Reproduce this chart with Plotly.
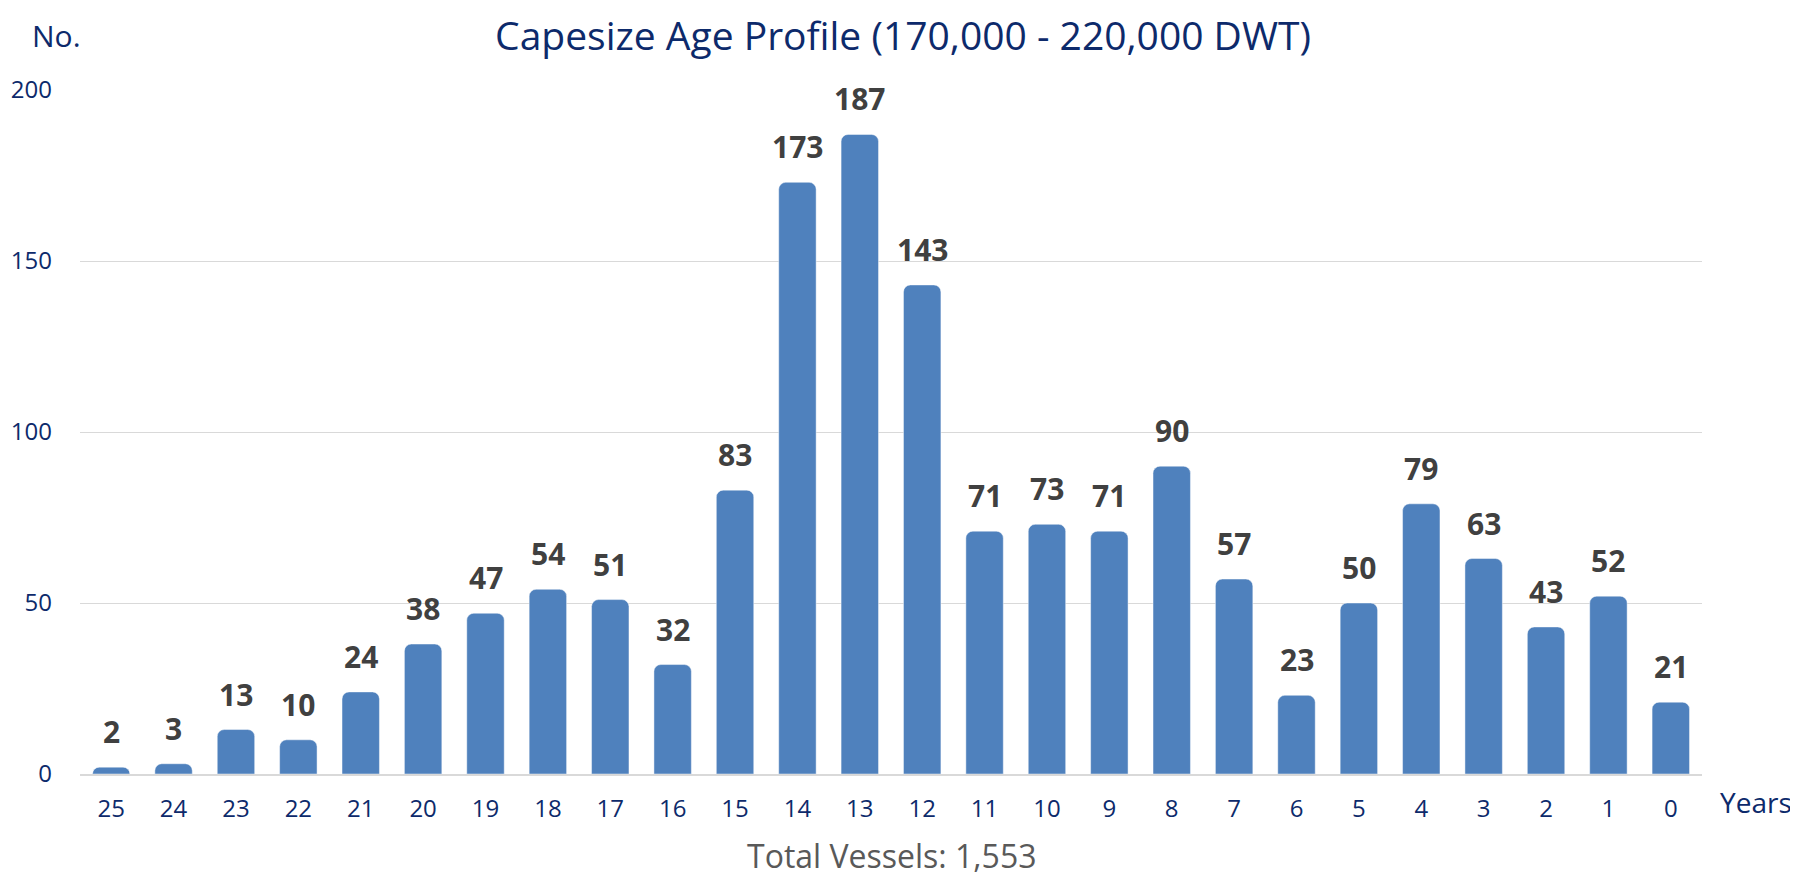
import plotly.graph_objects as go

# ages in years, oldest first
ages = ["25", "24", "23", "22", "21", "20", "19", "18", "17", "16", "15", "14", "13",
        "12", "11", "10", "9", "8", "7", "6", "5", "4", "3", "2", "1", "0"]
vessels = [2, 3, 13, 10, 24, 38, 47, 54, 51, 32, 83, 173, 187,
           143, 71, 73, 71, 90, 57, 23, 50, 79, 63, 43, 52, 21]
y_ticks = [0, 50, 100, 150, 200]

NAVY = "#0d2a6b"
BAR = "#4f81bd"
FONT = "Open Sans, Noto Sans, sans-serif"

fig = go.Figure()
fig.add_trace(go.Bar(
    x=ages,
    y=vessels,
    marker=dict(color=BAR, line=dict(color="rgba(255,255,255,0.45)", width=1)),
    showlegend=False,
    hoverinfo="x+y",
))

# value labels above bars (category axis -> position by index)
for i, val in enumerate(vessels):
    fig.add_annotation(
        x=i, y=val, text=f"<b>{val}</b>", showarrow=False,
        yanchor="bottom", yshift=13,
        font=dict(family=FONT, size=30, color="#404040"),
    )

fig.add_annotation(xref="paper", yref="paper", x=0, y=1.0, xshift=-50, yshift=55,
                   text="No.", showarrow=False, xanchor="left", yanchor="middle",
                   font=dict(family=FONT, size=30, color=NAVY))
fig.add_annotation(xref="paper", yref="paper", x=1.0, y=0, xshift=16, yshift=-28,
                   text="Years", showarrow=False, xanchor="left", yanchor="middle",
                   font=dict(family=FONT, size=28, color=NAVY))
fig.add_annotation(xref="paper", yref="paper", x=0.5, y=0, yshift=-81,
                   text="Total Vessels: 1,553", showarrow=False,
                   xanchor="center", yanchor="middle",
                   font=dict(family=FONT, size=32, color="#595959"))

# page body has an 8px margin, so the figure is a bit smaller than the window
fig.update_layout(
    width=1790, height=868,
    margin=dict(l=72, r=96, t=82, b=102),
    paper_bgcolor="white", plot_bgcolor="white",
    bargap=0.4,
    barcornerradius=7,
    title=dict(text="Capesize Age Profile (170,000 - 220,000 DWT)",
               x=0.5, xanchor="center", y=0.967, yanchor="middle",
               font=dict(family=FONT, size=39, color=NAVY)),
    xaxis=dict(
        type="category", showgrid=False, showline=True, automargin=False,
        linecolor="#d9d9d9", linewidth=2,
        tickfont=dict(family=FONT, size=24, color=NAVY),
        ticklabelstandoff=12,
    ),
    yaxis=dict(
        range=[0, 200], tickvals=y_ticks, showgrid=True, automargin=False,
        gridcolor="#d9d9d9", gridwidth=1, zeroline=False,
        tickfont=dict(family=FONT, size=24, color=NAVY),
        ticklabelstandoff=27,
    ),
)

fig.write_html("out.html")
